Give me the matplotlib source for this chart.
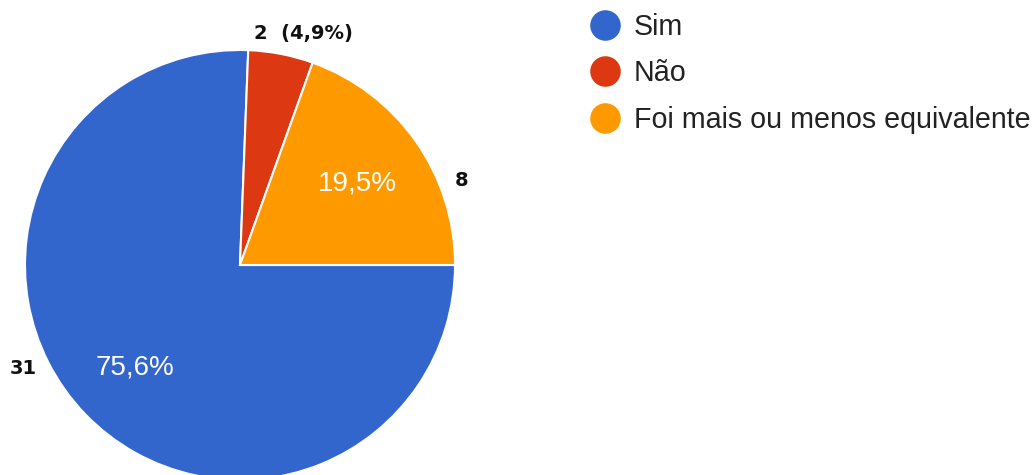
import matplotlib
matplotlib.use('Agg')
import matplotlib.pyplot as plt
from matplotlib.lines import Line2D

# data
categorias = ['Sim', 'Não', 'Foi mais ou menos equivalente']
respostas = [31, 2, 8]
percentuais = ['75,6%', '4,9%', '19,5%']
cores = ['#3366cc', '#dc3912', '#ff9900']

W, H = 1033, 475
fig = plt.figure(figsize=(W/100, H/100), dpi=100)

# pie centre (240,265) px from top, radius 215 px
cx, cy, r = 240, 265, 215
ax = fig.add_axes([(cx-r)/W, (H-cy-r)/H, 2*r/W, 2*r/H])
ax.pie(respostas, colors=cores, startangle=0, counterclock=False, radius=1,
       wedgeprops=dict(edgecolor='white', linewidth=1.5))
ax.set_xlim(-1, 1)
ax.set_ylim(-1, 1)
ax.set_aspect('equal')
ax.axis('off')

def pos(px, py):
    return (px-cx)/r, (cy-py)/r

# percentage labels inside the slices
for txt, (px, py) in [(percentuais[0], (135, 368)), (percentuais[2], (357, 183))]:
    x, y = pos(px, py)
    ax.text(x, y, txt, color='white', fontsize=20, family='Liberation Sans',
            ha='center', va='center')

# count labels outside
x, y = pos(23, 368)
ax.text(x, y, str(respostas[0]), fontsize=14, fontweight='bold', color='#111111',
        ha='center', va='center', clip_on=False)
x, y = pos(462, 180)
ax.text(x, y, str(respostas[2]), fontsize=14, fontweight='bold', color='#111111',
        ha='center', va='center', clip_on=False)
x, y = pos(303, 33)
ax.text(x, y, '%d  (%s)' % (respostas[1], percentuais[1]), fontsize=14,
        fontweight='bold', color='#111111', ha='center', va='center', clip_on=False)

# legend
handles = [Line2D([], [], marker='o', ls='', ms=22, color=c, markeredgewidth=0) for c in cores]
fig.legend(handles, categorias, loc='upper left', bbox_to_anchor=(591/W, 1-13/H),
           frameon=False, handlelength=1.0, handletextpad=0.5, borderpad=0,
           borderaxespad=0, labelspacing=0.64,
           prop=dict(family='Liberation Sans', size=20.6), labelcolor='#222222')

fig.savefig('out.png', dpi=100)
